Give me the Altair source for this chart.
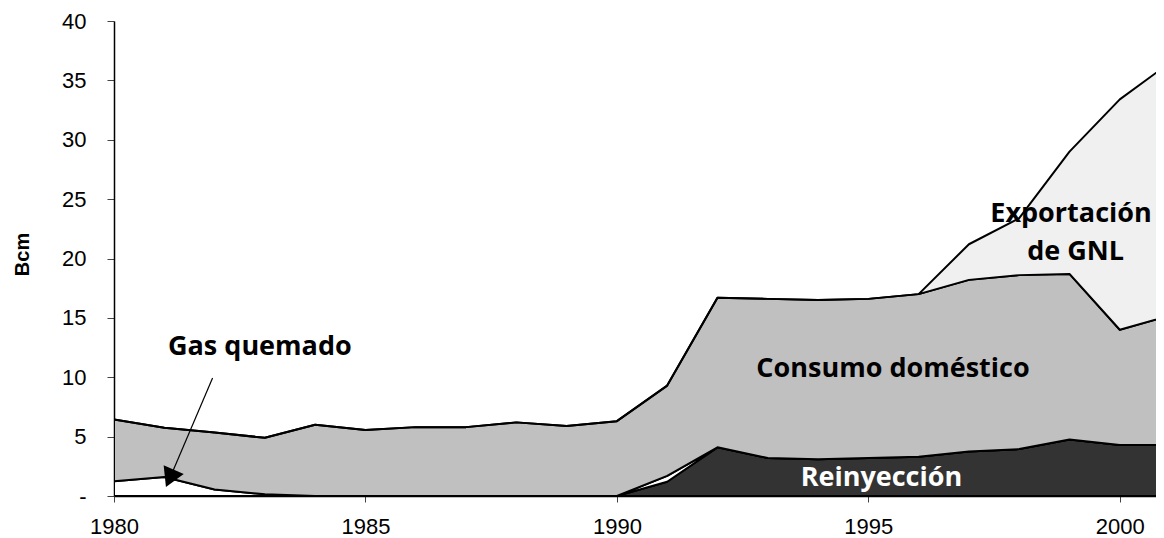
import altair as alt
import pandas as pd

# ---- data (Bcm) ----
years = list(range(1980, 2002))
series = ["Reinyección", "Gas quemado", "Consumo doméstico", "Exportación de GNL"]
colors = ["#333333", "#ffffff", "#c0c0c0", "#f0f0f0"]

reinyeccion = [0, 0, 0, 0, 0, 0, 0, 0, 0, 0, 0, 1.2, 4.1, 3.2, 3.1, 3.2, 3.3, 3.75, 3.95, 4.75, 4.3, 4.3]
gas_quemado = [1.25, 1.6, 0.55, 0.15, 0, 0, 0, 0, 0, 0, 0, 0.5, 0, 0, 0, 0, 0, 0, 0, 0, 0, 0]
consumo = [5.2, 4.15, 4.8, 4.75, 6.0, 5.55, 5.8, 5.8, 6.2, 5.9, 6.3, 7.6, 12.6, 13.4, 13.4, 13.4, 13.7, 14.45, 14.65, 13.95, 9.7, 10.9]
gnl = [0, 0, 0, 0, 0, 0, 0, 0, 0, 0, 0, 0, 0, 0, 0, 0, 0, 3.0, 4.8, 10.3, 19.4, 21.3]

x_ticks = [1980, 1985, 1990, 1995, 2000]
y_ticks = [0, 5, 10, 15, 20, 25, 30, 35, 40]

# annotations (data units)
label_text = ["Gas quemado", "Consumo doméstico", "Reinyección", "Exportación", "de GNL"]
label_year = [1982.9, 1995.49, 1995.26, 1999.03, 1999.12]
label_value = [11.9, 10.04, 0.85, 23.1, 19.9]
label_color = ["black", "black", "white", "black", "black"]

arrow_start = (1981.96, 9.93)
arrow_head = (1981.11, 1.49)

# ---- tables ----
rows = []
for order, (name, vals) in enumerate(zip(series, [reinyeccion, gas_quemado, consumo, gnl])):
    for yr, v in zip(years, vals):
        rows.append({"year": yr, "value": v, "serie": name, "orden": order})
df = pd.DataFrame(rows)

df_text = pd.DataFrame({"year": label_year, "value": label_value,
                        "txt": label_text, "tcolor": label_color})
df_arrow = pd.DataFrame({"year": [arrow_start[0]], "value": [arrow_start[1]],
                         "year2": [arrow_head[0]], "value2": [arrow_head[1]]})
df_head = pd.DataFrame({"year": [arrow_head[0]], "value": [arrow_head[1]]})

x_scale = alt.Scale(domain=[1980, 2000.72], nice=False, zero=False)
y_scale = alt.Scale(domain=[0, 40], nice=False)

x_axis = alt.Axis(values=x_ticks, format="d", labelFont="Liberation Sans", labelFontSize=22,
                  labelColor="black", tickSize=6, tickColor="#444444", domainColor="black",
                  domainWidth=1.5, grid=False, labelPadding=14, labelFlush=False)
y_axis = alt.Axis(values=y_ticks, labelExpr="datum.value == 0 ? '-' : datum.label",
                  labelFont="Liberation Sans", labelFontSize=22, labelColor="black",
                  tickSize=7, tickColor="#444444", domainColor="black", domainWidth=1.5,
                  grid=False, labelPadding=21,
                  titleFont="Liberation Sans", titleFontSize=20, titleFontWeight="bold",
                  titleColor="black", titleX=-92, titleY=233, titleAlign="center",
                  titleBaseline="middle", titleAngle=270)


def X(field="year"):
    return alt.X(f"{field}:Q", scale=x_scale, axis=x_axis, title=None)


def Y(field="value", **kw):
    return alt.Y(f"{field}:Q", scale=y_scale, axis=y_axis, title="Bcm", **kw)


areas = alt.Chart(df).mark_area(clip=True, stroke="black", strokeWidth=2,
                                strokeJoin="round", interpolate="linear", opacity=1).encode(
    x=X(),
    y=Y(stack="zero"),
    color=alt.Color("serie:N", scale=alt.Scale(domain=series, range=colors), legend=None),
    order=alt.Order("orden:Q", sort="ascending"),
)

texts = alt.Chart(df_text).mark_text(font="Open Sans", fontWeight="bold", fontSize=27,
                                     align="center", baseline="alphabetic").encode(
    x=X(), y=Y(), text="txt:N", color=alt.Color("tcolor:N", scale=None),
)

arrow = alt.Chart(df_arrow).mark_rule(color="black", strokeWidth=1.2).encode(
    x=X(), y=Y(), x2="year2:Q", y2="value2:Q",
)

head = alt.Chart(df_head).mark_point(shape="triangle-up", filled=True, size=484, angle=204,
                                     color="black", opacity=1).encode(x=X(), y=Y())

chart = alt.layer(areas, arrow, head, texts).properties(
    width=1042, height=475,
    padding={"left": 106, "top": 13, "right": 0, "bottom": 44},
    autosize=alt.AutoSizeParams(type="none"),
    background="white",
).configure_view(stroke=None)

chart.save("out.html", embed_options={"renderer": "svg", "actions": False})
